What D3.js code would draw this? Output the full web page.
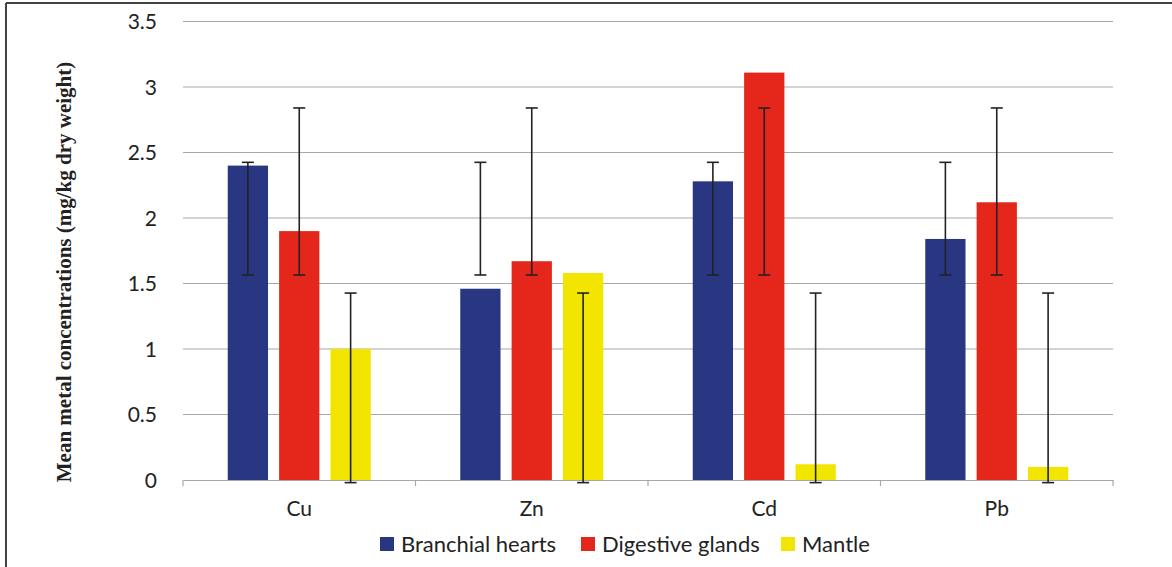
<!DOCTYPE html>
<html><head><meta charset="utf-8">
<script src="https://cdn.jsdelivr.net/npm/d3@7"></script>
<style>html,body{margin:0;padding:0;background:#fff;}svg{display:block;}</style>
</head><body><svg id="c" width="1172" height="567"></svg>
<script>
const categories = ["Cu", "Zn", "Cd", "Pb"];
const seriesNames = ["Branchial hearts", "Digestive glands", "Mantle"];
const seriesColors = ["#293682", "#e4261b", "#f2e500"];
const branchialHearts = [2.40, 1.46, 2.28, 1.84];
const digestiveGlands = [1.90, 1.67, 3.11, 2.12];
const mantle = [1.00, 1.58, 0.12, 0.10];
const errLowBranchial = [1.565, 1.565, 1.565, 1.565];
const errHighBranchial = [2.425, 2.425, 2.425, 2.425];
const errLowDigestive = [1.565, 1.565, 1.565, 1.565];
const errHighDigestive = [2.84, 2.84, 2.84, 2.84];
const errLowMantle = [-0.02, -0.02, -0.02, -0.02];
const errHighMantle = [1.427, 1.427, 1.427, 1.427];
const yTicks = [0, 0.5, 1, 1.5, 2, 2.5, 3, 3.5];
const yTitle = "Mean metal concentrations (mg/kg dry weight)";

const values = [branchialHearts, digestiveGlands, mantle];
const errLow = [errLowBranchial, errLowDigestive, errLowMantle];
const errHigh = [errHighBranchial, errHighDigestive, errHighMantle];

const svg = d3.select("#c");
const mLeft = 183, mRight = 1113, mTop = 21.5, mBottom = 480;
const sans = "Lato, 'Open Sans', sans-serif";

// frame
svg.append("line").attr("x1", 6).attr("x2", 1172).attr("y1", 3).attr("y2", 3).attr("stroke", "#444").attr("stroke-width", 2);
svg.append("line").attr("x1", 6).attr("x2", 6).attr("y1", 3).attr("y2", 567).attr("stroke", "#444").attr("stroke-width", 2);

const y = d3.scaleLinear().domain([0, 3.5]).range([mBottom, mTop]);
const x0 = d3.scaleBand().domain(categories).range([mLeft, mRight]).paddingInner(0).paddingOuter(0);
const x1 = d3.scaleBand().domain(seriesNames).range([x0.bandwidth()/2 - 71.5, x0.bandwidth()/2 + 71.5]).paddingInner(0.216).paddingOuter(0);

// gridlines
svg.append("g").selectAll("line").data(yTicks.filter(d => d > 0)).join("line")
  .attr("x1", mLeft).attr("x2", mRight)
  .attr("y1", d => y(d)).attr("y2", d => y(d))
  .attr("stroke", "#a8a8a8").attr("stroke-width", 1.2);

// y axis labels
const yAxis = d3.axisLeft(y).tickValues(yTicks).tickSize(0).tickPadding(0).tickFormat(d3.format("~g"));
const yg = svg.append("g").attr("transform", `translate(157,0)`).call(yAxis);
yg.select(".domain").remove();
yg.selectAll("text").attr("font-family", sans).attr("font-size", 21).attr("fill", "#222").attr("dy", "0.35em");

// x axis
const xAxis = d3.axisBottom(x0).tickSize(0).tickPadding(21);
const xg = svg.append("g").attr("transform", `translate(0,${mBottom})`).call(xAxis);
xg.select(".domain").attr("stroke", "#a8a8a8").attr("stroke-width", 1.2);
xg.selectAll("text").attr("font-family", sans).attr("font-size", 21).attr("fill", "#222");
// boundary ticks
const bounds = categories.map(c => x0(c)).concat([mRight]);
svg.append("g").selectAll("line").data(bounds).join("line")
  .attr("x1", d => d).attr("x2", d => d).attr("y1", mBottom).attr("y2", mBottom + 6)
  .attr("stroke", "#a8a8a8").attr("stroke-width", 1.2);

// bars
const groups = svg.append("g").selectAll("g").data(categories).join("g")
  .attr("transform", c => `translate(${x0(c)},0)`);
seriesNames.forEach((s, si) => {
  groups.append("rect")
    .attr("x", x1(s)).attr("width", x1.bandwidth())
    .attr("y", (c, ci) => y(values[si][ci]))
    .attr("height", (c, ci) => y(0) - y(values[si][ci]))
    .attr("fill", seriesColors[si]);
});
// error bars
seriesNames.forEach((s, si) => {
  const cx = x1(s) + x1.bandwidth() / 2;
  groups.append("line")
    .attr("x1", cx).attr("x2", cx)
    .attr("y1", (c, ci) => y(errLow[si][ci])).attr("y2", (c, ci) => y(errHigh[si][ci]))
    .attr("stroke", "#222").attr("stroke-width", 1.6);
  [errLow, errHigh].forEach(arr => {
    groups.append("line")
      .attr("x1", cx - 6).attr("x2", cx + 6)
      .attr("y1", (c, ci) => y(arr[si][ci])).attr("y2", (c, ci) => y(arr[si][ci]))
      .attr("stroke", "#222").attr("stroke-width", 1.6);
  });
});

// y title
svg.append("text")
  .attr("transform", "translate(71,272) rotate(-90)")
  .attr("text-anchor", "middle")
  .attr("font-family", "'Liberation Serif', 'DejaVu Serif', serif")
  .attr("font-weight", "bold").attr("font-size", 21).attr("fill", "#222")
  .text(yTitle);

// legend
const legendX = [380, 581, 781];
const lg = svg.append("g").selectAll("g").data(seriesNames).join("g")
  .attr("transform", (d, i) => `translate(${legendX[i]},537)`);
lg.append("rect").attr("width", 14).attr("height", 14).attr("fill", (d, i) => seriesColors[i]);
lg.append("text").attr("x", 21).attr("y", 14.5).text(d => d)
  .attr("font-family", sans).attr("font-size", 22).attr("fill", "#222");
</script>
</body></html>
